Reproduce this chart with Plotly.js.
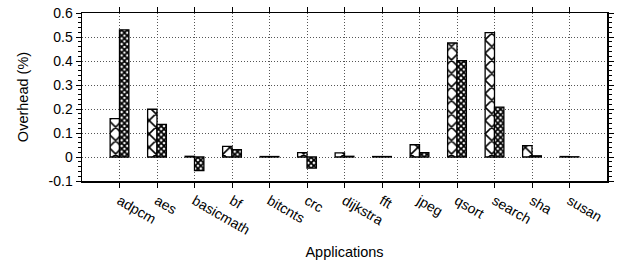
<!DOCTYPE html>
<html>
<head>
<meta charset="utf-8">
<script src="https://cdn.plot.ly/plotly-3.0.1.min.js"></script>
<style>html,body{margin:0;padding:0;background:#fff;}#chart{width:619px;height:264px;}</style>
</head>
<body>
<div id="chart"></div>
<script>
const categories = ["adpcm","aes","basicmath","bf","bitcnts","crc","dijkstra","fft","jpeg","qsort","search","sha","susan"];
const overheadA = [0.160, 0.199, 0.003, 0.044, 0.002, 0.018, 0.017, 0.002, 0.051, 0.475, 0.518, 0.047, 0.002];
const overheadB = [0.530, 0.136, -0.057, 0.031, 0.002, -0.046, 0.003, 0.002, 0.018, 0.401, 0.208, 0.005, 0.001];
const yTickVals = [-0.1, 0, 0.1, 0.2, 0.3, 0.4, 0.5, 0.6];
const yTickText = ["-0.1", "0", "0.1", "0.2", "0.3", "0.4", "0.5", "0.6"];

const font = {family: "Liberation Sans, Arial, Helvetica, sans-serif", color: "#000"};
const traces = [
  {type: "bar", x: categories, y: overheadA, name: "A",
   marker: {color: "#fff", line: {color: "#000", width: 1.3},
            pattern: {shape: "x", size: 9.5, solidity: 0.3, fgcolor: "#000", bgcolor: "#fff"}}},
  {type: "bar", x: categories, y: overheadB, name: "B",
   marker: {color: "#fff", line: {color: "#000", width: 1.3},
            pattern: {shape: "x", size: 4, solidity: 0.7, fgcolor: "#000", bgcolor: "#fff"}}}
];
const layout = {
  width: 619, height: 264,
  margin: {l: 82, r: 12, t: 13, b: 83},
  paper_bgcolor: "#fff", plot_bgcolor: "#fff",
  showlegend: false,
  barmode: "group", bargap: 0.5, bargroupgap: 0,
  font: Object.assign({size: 14}, font),
  xaxis: {
    type: "category", range: [-1, 13],
    tickangle: 30, ticks: "outside", ticklen: 5, tickwidth: 1, tickcolor: "#000",
    showline: true, linecolor: "#000", linewidth: 1.5, mirror: "ticks",
    showgrid: true, gridcolor: "#555", griddash: "1px,2px", gridwidth: 1,
    tickfont: Object.assign({size: 14}, font),
    title: {text: "Applications", font: Object.assign({size: 14.5}, font), standoff: 10}
  },
  yaxis: {
    range: [-0.1, 0.6], tickvals: yTickVals, ticktext: yTickText,
    ticks: "outside", ticklen: 5, tickwidth: 1, tickcolor: "#000",
    minor: {dtick: 0.02, ticks: "outside", ticklen: 3, tickcolor: "#000", showgrid: false},
    showline: true, linecolor: "#000", linewidth: 1.5, mirror: "ticks",
    showgrid: true, gridcolor: "#555", griddash: "1px,2px", gridwidth: 1,
    zeroline: false,
    tickfont: Object.assign({size: 14}, font),
    title: {text: "Overhead (%)", font: Object.assign({size: 14.5}, font), standoff: 16}
  }
};
Plotly.newPlot("chart", traces, layout, {displayModeBar: false, staticPlot: true});
</script>
</body>
</html>
